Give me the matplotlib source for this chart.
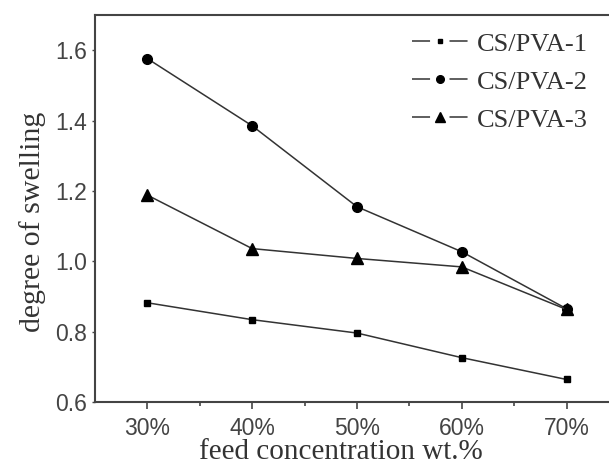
import matplotlib
matplotlib.use("Agg")
import matplotlib.pyplot as plt
from matplotlib.lines import Line2D

conc = [30, 40, 50, 60, 70]
tick_labels = ["30%", "40%", "50%", "60%", "70%"]
pva1 = [0.882, 0.834, 0.796, 0.726, 0.664]
pva2 = [1.576, 1.385, 1.155, 1.027, 0.865]
pva3 = [1.188, 1.036, 1.008, 0.984, 0.863]
names = ["CS/PVA-1", "CS/PVA-2", "CS/PVA-3"]

fig = plt.figure(figsize=(6.09, 4.70), dpi=100)
W, H = 609, 470
left, right, top, bottom = 95, 619, 15, 402
ax = fig.add_axes([left / W, 1 - bottom / H, (right - left) / W, (bottom - top) / H])

line_c = "#333333"
specs = [(pva1, "s", 5), (pva2, "o", 7), (pva3, "^", 8)]
for vals, m, ms in specs:
    ax.plot(conc, vals, color=line_c, lw=1.1, marker=m, ms=ms,
            mfc="black", mec="black", zorder=3)

ax.set_xlim(25, 75)
ax.set_ylim(0.6, 1.7)
ax.set_xticks(conc)
ax.set_xticklabels(tick_labels)
ax.set_xticks([35, 45, 55, 65, 75], minor=True)
ax.set_yticks([0.6, 0.8, 1.0, 1.2, 1.4, 1.6])
ax.set_yticklabels(["0.6", "0.8", "1.0", "1.2", "1.4", "1.6"])

for sp in ["left", "bottom", "top", "right"]:
    ax.spines[sp].set_color("#444444")
    ax.spines[sp].set_linewidth(1.5)

ax.tick_params(axis="x", which="major", direction="out", length=5, width=1.2,
               color="#444444", labelsize=16.5, labelcolor="#444444", pad=6)
ax.tick_params(axis="x", which="minor", direction="out", length=3, width=1.2,
               color="#444444")
ax.tick_params(axis="y", which="major", direction="out", length=2, width=1.0,
               color="#444444", labelsize=16.5, labelcolor="#444444", pad=4)
for lab in ax.get_xticklabels() + ax.get_yticklabels():
    lab.set_fontfamily("Liberation Sans")

ax.set_xlabel("feed concentration wt.%", fontfamily="Liberation Serif",
              fontsize=21, color="#333333")
ax.set_ylabel("degree of swelling", fontfamily="Liberation Serif",
              fontsize=21.5, color="#333333")
ax.xaxis.set_label_coords((341 - left) / (right - left), (bottom - 439) / (bottom - top))
ax.yaxis.set_label_coords((46 - left) / (right - left), (bottom - 222) / (bottom - top))

lw_h = 1.1
handles = []
for (vals, m, ms), nm in zip(specs, names):
    handles.append(Line2D([], [], color=line_c, lw=lw_h,
                          linestyle=(0, (13 / lw_h, 14 / lw_h)),
                          marker=m, ms=ms - 1.5, mfc="black", mec="black", label=nm))
leg = ax.legend(handles=handles, loc="upper left",
                bbox_to_anchor=((395 - left) / (right - left), 1.0),
                frameon=False, prop={"family": "Liberation Serif", "size": 19},
                handlelength=2.1, handletextpad=0.35, labelspacing=0.55,
                borderaxespad=0.25)
for t in leg.get_texts():
    t.set_color("#333333")

fig.savefig("out.png", dpi=100)
